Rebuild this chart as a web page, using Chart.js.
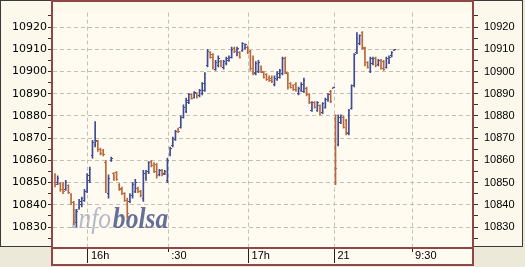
<!DOCTYPE html>
<html>
<head>
<meta charset="utf-8">
<script src="https://cdn.jsdelivr.net/npm/chart.js@4.4.1/dist/chart.umd.min.js"></script>
<style>
  html, body { margin: 0; padding: 0; background: #ece9d8; }
  #wrap { width: 525px; height: 267px; }
</style>
</head>
<body>
<div id="wrap"><canvas id="chart" width="525" height="267"></canvas></div>
<script>
// One-minute OHLC bars, first session (20th) then the opening of the 21st
const day1Open = [10853, 10850, 10849.5, 10849, 10847, 10848.5, 10844.5, 10841, 10832, 10839,
    10840, 10842, 10846, 10851, 10862, 10867, 10868.5, 10865, 10864.5, 10859,
    10845, 10860, 10854, 10854.5, 10849, 10847.5, 10845, 10842, 10841.5, 10844,
    10846, 10847.5, 10846, 10843, 10852, 10855, 10859.5, 10858.5, 10858, 10853.5,
    10855.5, 10854, 10851, 10862.5, 10866.5, 10869.5, 10874, 10875, 10879.5, 10882,
    10886, 10889.5, 10888.5, 10890, 10889, 10890, 10891.5, 10902.5, 10908.5, 10907.5,
    10901, 10902.5, 10904.5, 10902, 10903.5, 10905, 10906.5, 10910.5, 10907.5, 10908.5,
    10909.5, 10910.5, 10911, 10909, 10906, 10899, 10900, 10902, 10899.5, 10898.5,
    10897.5, 10897, 10894, 10896.5, 10897.5, 10899, 10906, 10899, 10894.5, 10893.5,
    10894, 10890, 10891.5, 10891, 10892.5, 10889.5, 10882.5, 10886, 10882.5, 10884.5,
    10881.5, 10884, 10887, 10891, 10892.5];
const day1High = [10854, 10853, 10850, 10850, 10851, 10849, 10845, 10841.5, 10838, 10842.5,
    10843.5, 10847, 10854, 10857, 10869, 10877.5, 10869, 10865.5, 10865, 10860,
    10853.5, 10861.5, 10854.5, 10855, 10849.5, 10848, 10845.5, 10843, 10845, 10850,
    10851.5, 10848, 10846.5, 10855.5, 10855.5, 10859.5, 10860, 10859, 10858.5, 10856,
    10856, 10855.5, 10861, 10866, 10870.5, 10873.5, 10874.5, 10880, 10885, 10888,
    10890, 10890, 10891, 10890.5, 10892, 10895, 10899.5, 10910, 10909, 10908,
    10905, 10907, 10905, 10905, 10906.5, 10907, 10911, 10911, 10911, 10909,
    10913, 10912.5, 10911.5, 10909.5, 10907, 10904.5, 10905, 10902.5, 10900, 10899,
    10898, 10898, 10898, 10900, 10901, 10906.5, 10906.5, 10899.5, 10895, 10894,
    10895, 10893, 10895, 10897, 10893, 10890, 10886.5, 10886.5, 10886.5, 10885,
    10886, 10888, 10890, 10891.5, 10893];
const day1Low = [10848, 10849, 10846, 10845, 10846.5, 10845, 10840, 10831, 10830, 10838,
    10839, 10841.5, 10845.5, 10850, 10861, 10866, 10864, 10862.5, 10862, 10845.5,
    10843, 10859.5, 10851, 10851, 10846.5, 10844.5, 10841.5, 10834, 10841, 10843,
    10845.5, 10845.5, 10843.5, 10841.5, 10851, 10854, 10857, 10854.5, 10852, 10853,
    10853, 10853.5, 10850, 10862, 10866, 10869, 10872.5, 10874.5, 10879, 10881.5,
    10885.5, 10887.5, 10888, 10888, 10888.5, 10889.5, 10891, 10902, 10906, 10901,
    10900.5, 10902, 10902, 10901, 10903, 10904.5, 10906, 10908.5, 10907, 10906,
    10909, 10910, 10908, 10900.5, 10898.5, 10898.5, 10899.5, 10899.5, 10897, 10896,
    10895.5, 10895, 10893.5, 10896, 10897, 10898.5, 10899, 10892, 10892.5, 10891.5,
    10891, 10889.5, 10891, 10890.5, 10889, 10885.5, 10882, 10883.5, 10882, 10880.5,
    10881, 10883.5, 10886.5, 10886, 10892.5];
const day1Close = [10849, 10852, 10847, 10846, 10850, 10845.5, 10841, 10833, 10837, 10841.5,
    10843, 10846, 10853, 10856, 10868, 10869, 10865, 10863, 10862.5, 10847,
    10852, 10861, 10852, 10851.5, 10847, 10845, 10842, 10836, 10844, 10849,
    10850, 10846, 10844, 10854, 10855, 10859, 10857.5, 10855, 10853, 10855.5,
    10853.5, 10855, 10860, 10865.5, 10870, 10873, 10873, 10879.5, 10884, 10887,
    10889.5, 10888, 10890.5, 10888.5, 10891.5, 10894.5, 10899, 10909, 10906.5, 10902,
    10904, 10906, 10902.5, 10904.5, 10906, 10906.5, 10910, 10909, 10910.5, 10906.5,
    10912.5, 10912, 10908.5, 10901.5, 10899.5, 10903.5, 10904, 10900, 10897.5, 10896.5,
    10896, 10895.5, 10897, 10899, 10900.5, 10906, 10899.5, 10893, 10893, 10892,
    10891.5, 10892.5, 10894, 10896, 10889.5, 10886, 10886, 10884, 10886, 10881,
    10885.5, 10887.5, 10889.5, 10886.5, 10893];

const day2Open = [10879, 10867, 10877, 10879.5, 10878, 10872, 10883.5, 10893.5, 10908.5, 10912.5,
    10917.5, 10910.5, 10904, 10900, 10903.5, 10906, 10903, 10905, 10904.5, 10902,
    10904, 10907, 10909.5];
const day2High = [10880.5, 10880.5, 10880.5, 10880, 10878.5, 10883, 10894, 10908, 10917.5, 10916.5,
    10918, 10911, 10904.5, 10906.5, 10906.5, 10906.5, 10905.5, 10905.5, 10905, 10906.5,
    10907, 10909, 10910];
const day2Low = [10849, 10866.5, 10876.5, 10874.5, 10871.5, 10871.5, 10883, 10893, 10908, 10912,
    10910, 10902.5, 10901.5, 10899.5, 10903, 10902, 10902.5, 10901, 10900.5, 10901.5,
    10903.5, 10906.5, 10909.5];
const day2Close = [10856.5, 10879.5, 10880, 10875, 10872.5, 10882.5, 10893.5, 10907.5, 10915, 10916,
    10911, 10903, 10902, 10906, 10906, 10902.5, 10905, 10901.5, 10901, 10906,
    10906.5, 10908.5, 10910];

// minute slot where the second session starts (after the overnight gap)
const day2Start = 104.8;

// time axis: slot positions of the labelled ticks
const xTickValues = [12.3, 42.3, 72.3, 104.4, 133.4];
const xTickLabels = ['16h', ':30', '17h', '21', '9:30'];
const xTickLong = [true, false, true, true, false];

const yTickValues = [10825, 10830, 10835, 10840, 10845, 10850, 10855, 10860, 10865, 10870,
    10875, 10880, 10885, 10890, 10895, 10900, 10905, 10910, 10915, 10920, 10925];

const UP_COLOR = '#3e4a92';
const DOWN_COLOR = '#b8663a';
const MAROON = '#8f4646';

// build one list of bars from both sessions
const bars = [];
day1Open.forEach((o, i) => bars.push({ x: i, o, h: day1High[i], l: day1Low[i], c: day1Close[i] }));
day2Open.forEach((o, i) => bars.push({ x: day2Start + i, o, h: day2High[i], l: day2Low[i], c: day2Close[i] }));

const barColor = (b) => (b.c >= b.o ? UP_COLOR : DOWN_COLOR);

// small canvases used as point styles for the open (left) and close (right) ticks
const tickImage = (color, side) => {
    const c = document.createElement('canvas');
    c.width = 3;
    c.height = 1;
    const g = c.getContext('2d');
    g.fillStyle = color;
    g.fillRect(side === 'left' ? 0 : 2, 0, 1, 1);
    return c;
};
const OPEN_UP = tickImage(UP_COLOR, 'left');
const OPEN_DOWN = tickImage(DOWN_COLOR, 'left');
const CLOSE_UP = tickImage(UP_COLOR, 'right');
const CLOSE_DOWN = tickImage(DOWN_COLOR, 'right');

const leftFont = { family: '"DejaVu Sans", Verdana, sans-serif', size: 11 };
const labelFont = { family: '"Liberation Sans", Arial, sans-serif', size: 11 };

// panels, frame and the watermark
const framePlugin = {
    id: 'frame',
    beforeDraw(chart) {
        const { ctx, chartArea: a } = chart;
        ctx.save();
        ctx.fillStyle = '#ece9d8';
        ctx.fillRect(0, 0, chart.width, chart.height);
        ctx.fillStyle = '#fcf8ec';
        ctx.fillRect(0, 0, 523, a.bottom);
        ctx.fillStyle = '#fffbf0';
        ctx.fillRect(a.left, a.top, a.right - a.left, 265 - a.top);
        ctx.restore();
    },
    beforeDatasetsDraw(chart) {
        const { ctx } = chart;
        ctx.save();
        ctx.translate(70, 228);
        ctx.scale(0.88, 1);
        ctx.font = 'italic 29px "Liberation Serif", serif';
        ctx.fillStyle = 'rgba(150, 156, 188, 0.7)';
        ctx.fillText('Info', 0, 0);
        const w = ctx.measureText('Info').width;
        ctx.font = 'italic bold 29px "Liberation Serif", serif';
        ctx.fillStyle = 'rgba(62, 76, 130, 0.8)';
        ctx.fillText('bolsa', w + 2, 0);
        ctx.restore();
    },
    afterDraw(chart) {
        const { ctx, chartArea: a } = chart;
        const xScale = chart.scales.x;
        ctx.save();
        // short ticks on the time strip
        ctx.strokeStyle = '#222';
        ctx.lineWidth = 1;
        xTickValues.forEach((v, i) => {
            if (xTickLong[i]) return;
            const px = Math.round(xScale.getPixelForValue(v)) + 0.5;
            ctx.beginPath();
            ctx.moveTo(px, a.bottom);
            ctx.lineTo(px, a.bottom + 5);
            ctx.stroke();
        });
        // dark outer edges of the side panels
        ctx.fillStyle = '#3a3a3a';
        ctx.fillRect(0, 0, 523, 1);
        ctx.fillRect(0, 0, 1, a.bottom);
        ctx.fillRect(522, 0, 1, a.bottom);
        ctx.fillRect(0, a.bottom - 1, 52, 1);
        ctx.fillRect(472, a.bottom - 1, 51, 1);
        // maroon frame of the plot and time strip
        ctx.fillStyle = MAROON;
        ctx.fillRect(a.left - 2, 0, 2, 266);
        ctx.fillRect(a.right, 0, 2, 266);
        ctx.fillRect(a.left - 2, 0, a.right - a.left + 4, 2);
        ctx.fillRect(a.left - 2, a.bottom, a.right - a.left + 4, 2);
        ctx.fillRect(a.left - 2, 264, a.right - a.left + 4, 2);
        ctx.restore();
    }
};

const yAxis = (position, width, tickLength, padding, font) => ({
    type: 'linear',
    position,
    min: 10821,
    max: 10926.5,
    afterBuildTicks: (scale) => {
        scale.ticks = yTickValues.map(v => ({ value: v }));
    },
    afterFit: (scale) => {
        scale.width = width;
    },
    ticks: {
        autoSkip: false,
        padding,
        color: '#000',
        font,
        callback: (value) => (value % 10 === 0 ? String(value) : '')
    },
    grid: {
        drawOnChartArea: position === 'left',
        color: (ctx) => (ctx.tick && ctx.tick.value % 10 === 0 ? '#c4c0b4' : 'rgba(0,0,0,0)'),
        tickColor: '#333',
        tickLength
    },
    border: { display: false, dash: [4, 3] }
});

new Chart(document.getElementById('chart'), {
    type: 'bar',
    data: {
        datasets: [
            {
                label: 'High-Low',
                data: bars.map(b => ({ x: b.x, y: [b.l, b.h] })),
                backgroundColor: (ctx) => barColor(bars[ctx.dataIndex]),
                barThickness: 1,
                borderWidth: 0,
                xAxisID: 'x',
                yAxisID: 'y'
            },
            {
                type: 'scatter',
                label: 'Open',
                data: bars.map(b => ({ x: b.x, y: b.o })),
                pointStyle: (ctx) => (bars[ctx.dataIndex].c >= bars[ctx.dataIndex].o ? OPEN_UP : OPEN_DOWN),
                pointRadius: 2,
                xAxisID: 'x',
                yAxisID: 'y'
            },
            {
                type: 'scatter',
                label: 'Close',
                data: bars.map(b => ({ x: b.x, y: b.c })),
                pointStyle: (ctx) => (bars[ctx.dataIndex].c >= bars[ctx.dataIndex].o ? CLOSE_UP : CLOSE_DOWN),
                pointRadius: 2,
                xAxisID: 'x',
                yAxisID: 'y'
            }
        ]
    },
    options: {
        responsive: false,
        animation: false,
        devicePixelRatio: 1,
        layout: { padding: { top: 2, bottom: 3, left: 0, right: 0 } },
        plugins: {
            legend: { display: false },
            tooltip: { enabled: false }
        },
        scales: {
            x: {
                type: 'linear',
                position: 'bottom',
                offset: false,
                min: -0.75,
                max: 155.8,
                afterBuildTicks: (scale) => {
                    scale.ticks = xTickValues.map(v => ({ value: v }));
                },
                afterFit: (scale) => {
                    scale.height = 17;
                },
                ticks: {
                    autoSkip: false,
                    maxRotation: 0,
                    align: 'start',
                    padding: -14,
                    color: '#000',
                    font: labelFont,
                    callback: (value, index) => ' ' + xTickLabels[index]
                },
                grid: {
                    offset: false,
                    color: '#c4c0b4',
                    tickColor: (ctx) => (xTickLong[ctx.index] ? '#222' : 'rgba(0,0,0,0)'),
                    tickLength: 16
                },
                border: { display: false, dash: [4, 3] }
            },
            y: yAxis('left', 53, 5, 1, leftFont),
            y2: yAxis('right', 53, 6, 6, labelFont)
        }
    },
    plugins: [framePlugin]
});
</script>
</body>
</html>
